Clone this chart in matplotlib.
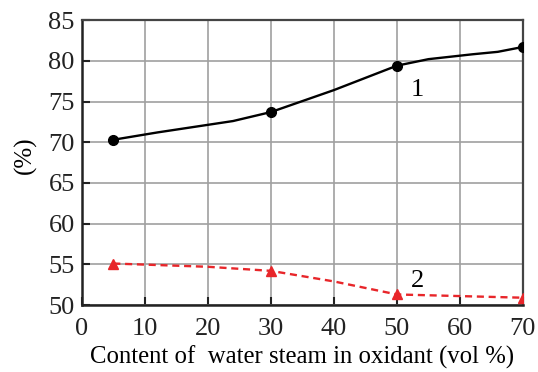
import matplotlib
matplotlib.use('Agg')
import matplotlib.pyplot as plt

plt.rcParams['font.family'] = ['Liberation Serif', 'DejaVu Serif']

# measured points (markers)
x_pts = [5, 30, 50, 70]
y1_pts = [70.3, 73.7, 79.4, 81.7]
y2_pts = [55.1, 54.2, 51.3, 50.9]

# curve shape
x1_curve = [5, 12, 24, 30, 40, 50, 55, 62, 66, 70]
y1_curve = [70.3, 71.2, 72.6, 73.7, 76.4, 79.4, 80.2, 80.8, 81.1, 81.7]
x2_curve = [5, 20, 30, 40, 50, 60, 70]
y2_curve = [55.1, 54.7, 54.2, 52.9, 51.3, 51.1, 50.9]

xticks = [0, 10, 20, 30, 40, 50, 60, 70]
yticks = [50, 55, 60, 65, 70, 75, 80, 85]

fig = plt.figure(figsize=(5.38, 3.72), dpi=100)
ax = fig.add_axes([0.152, 0.180, 0.820, 0.766])

ax.plot(x1_curve, y1_curve, '-', color='black', linewidth=1.7, zorder=3)
ax.plot(x_pts, y1_pts, 'o', color='black', markersize=7, zorder=4)
ax.plot(x2_curve, y2_curve, '--', color='#e8262a', linewidth=1.7, dashes=(3, 2), zorder=3)
ax.plot(x_pts, y2_pts, '^', color='#e8262a', markersize=7, zorder=4)

ax.text(53.3, 76.4, '1', fontsize=19, ha='center', va='center')
ax.text(53.2, 52.9, '2', fontsize=19, ha='center', va='center')

ax.set_xlim(0, 70)
ax.set_ylim(50, 85)
ax.set_xticks(xticks)
ax.set_yticks(yticks)
ax.tick_params(direction='in', length=6, width=1.5, labelsize=19, colors='#222222',
               top=False, right=False)
ax.tick_params(axis='x', pad=9)
ax.tick_params(axis='y', pad=5)
ax.grid(True, color='#a0a0a0', linewidth=1.2)
for s in ['left', 'bottom']:
    ax.spines[s].set_linewidth(1.8)
    ax.spines[s].set_color('#222222')
for s in ['top', 'right']:
    ax.spines[s].set_linewidth(1.6)
    ax.spines[s].set_color('#444444')

ax.set_xlabel('Content of  water steam in oxidant (vol %)', fontsize=17.8, labelpad=4)
ax.set_ylabel('(%)', fontsize=18)
ax.yaxis.set_label_coords(-0.102, 0.526)

plt.savefig('out.png', dpi=100)
